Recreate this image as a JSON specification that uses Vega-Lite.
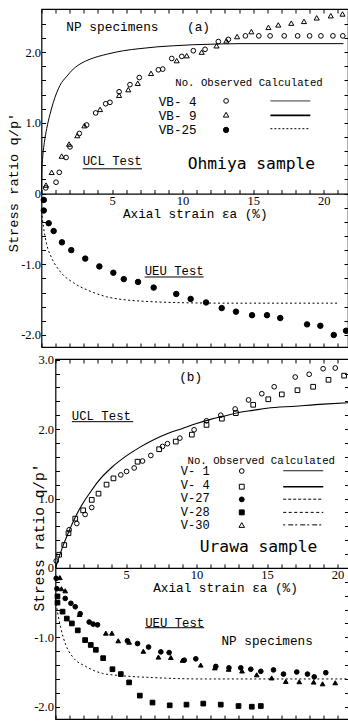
{
  "$schema": "https://vega.github.io/schema/vega-lite/v6.json",
  "padding": {"left": 4.5, "top": 7, "right": 0, "bottom": 0},
  "background": "white",
  "config": {
    "view": {"stroke": "black", "strokeWidth": 1.2},
    "axis": {"grid": false, "domain": false, "ticks": true, "tickColor": "black", "tickWidth": 1, "tickSize": -4, "labelColor": "black", "titleColor": "black", "labelFont": "Liberation Sans Narrow", "labelFontSize": 12.5, "titleFont": "Liberation Mono", "titleFontWeight": "normal", "labelOverlap": false, "labelFlush": false, "labelBound": false},
    "text": {"font": "Liberation Mono", "color": "black", "align": "left", "baseline": "middle"},
    "line": {"color": "black"},
    "rule": {"color": "black"},
    "point": {"opacity": 1}
  },
  "datasets": {
    "a_ucl": [{"x":0,"y":0},{"x":0.02,"y":0.3},{"x":0.08,"y":0.5},{"x":0.2,"y":0.72},{"x":0.37,"y":0.92},{"x":0.6,"y":1.12},{"x":0.84,"y":1.29},{"x":1.31,"y":1.53},{"x":1.8,"y":1.66},{"x":2.25,"y":1.76},{"x":2.8,"y":1.84},{"x":3.44,"y":1.9},{"x":4.62,"y":1.97},{"x":5.8,"y":2.02},{"x":6.98,"y":2.05},{"x":8.2,"y":2.075},{"x":9.34,"y":2.09},{"x":10.8,"y":2.105},{"x":12.5,"y":2.115},{"x":14,"y":2.12},{"x":21.4,"y":2.12}],
    "a_ueu": [{"x":0,"y":-0.25},{"x":0.13,"y":-0.46},{"x":0.37,"y":-0.72},{"x":0.72,"y":-0.91},{"x":1.31,"y":-1.1},{"x":2.25,"y":-1.26},{"x":3.44,"y":-1.38},{"x":4.62,"y":-1.46},{"x":5.8,"y":-1.5},{"x":6.98,"y":-1.52},{"x":8.5,"y":-1.535},{"x":10.29,"y":-1.545},{"x":13,"y":-1.55},{"x":21.1,"y":-1.55}],
    "a_pts": [
      {"s":"VB-4","x":0.3,"y":0.08},{"s":"VB-4","x":1.03,"y":0.16},{"s":"VB-4","x":1.26,"y":0.3},{"s":"VB-4","x":1.74,"y":0.51},{"s":"VB-4","x":2.02,"y":0.66},{"s":"VB-4","x":2.68,"y":0.85},{"s":"VB-4","x":3.2,"y":0.97},{"s":"VB-4","x":3.84,"y":1.14},{"s":"VB-4","x":4.55,"y":1.27},{"s":"VB-4","x":4.85,"y":1.29},{"s":"VB-4","x":5.5,"y":1.44},{"s":"VB-4","x":6.27,"y":1.54},{"s":"VB-4","x":6.93,"y":1.64},{"s":"VB-4","x":8.28,"y":1.75},{"s":"VB-4","x":8.59,"y":1.76},{"s":"VB-4","x":9.23,"y":1.91},{"s":"VB-4","x":9.94,"y":1.94},{"s":"VB-4","x":10.76,"y":2.02},{"s":"VB-4","x":11.59,"y":2.04},{"s":"VB-4","x":12.53,"y":2.15},{"s":"VB-4","x":13.24,"y":2.18},{"s":"VB-4","x":14.45,"y":2.23},{"s":"VB-4","x":15.4,"y":2.23},{"s":"VB-4","x":16.2,"y":2.23},{"s":"VB-4","x":17.2,"y":2.23},{"s":"VB-4","x":18.15,"y":2.23},{"s":"VB-4","x":19.0,"y":2.23},{"s":"VB-4","x":19.8,"y":2.23},{"s":"VB-4","x":20.65,"y":2.23},{"s":"VB-4","x":21.35,"y":2.23},
      {"s":"VB-9","x":0.32,"y":0.12},{"s":"VB-9","x":0.72,"y":0.3},{"s":"VB-9","x":1.43,"y":0.53},{"s":"VB-9","x":1.95,"y":0.7},{"s":"VB-9","x":2.54,"y":0.82},{"s":"VB-9","x":3.04,"y":0.96},{"s":"VB-9","x":4.15,"y":1.19},{"s":"VB-9","x":5.5,"y":1.39},{"s":"VB-9","x":6.15,"y":1.47},{"s":"VB-9","x":6.82,"y":1.56},{"s":"VB-9","x":7.76,"y":1.7},{"s":"VB-9","x":9.58,"y":1.88},{"s":"VB-9","x":10.29,"y":1.95},{"s":"VB-9","x":11.35,"y":2.0},{"s":"VB-9","x":12.4,"y":2.09},{"s":"VB-9","x":13.1,"y":2.16},{"s":"VB-9","x":13.86,"y":2.22},{"s":"VB-9","x":14.87,"y":2.29},{"s":"VB-9","x":16.08,"y":2.35},{"s":"VB-9","x":16.78,"y":2.385},{"s":"VB-9","x":17.7,"y":2.41},{"s":"VB-9","x":18.6,"y":2.435},{"s":"VB-9","x":19.5,"y":2.485},{"s":"VB-9","x":20.5,"y":2.515},{"s":"VB-9","x":21.33,"y":2.54},
      {"s":"VB-25","x":0.16,"y":-0.09},{"s":"VB-25","x":0.16,"y":-0.24},{"s":"VB-25","x":0.51,"y":-0.42},{"s":"VB-25","x":0.86,"y":-0.53},{"s":"VB-25","x":1.45,"y":-0.69},{"s":"VB-25","x":2.11,"y":-0.8},{"s":"VB-25","x":3.1,"y":-0.92},{"s":"VB-25","x":4.1,"y":-1.03},{"s":"VB-25","x":5.09,"y":-1.12},{"s":"VB-25","x":5.83,"y":-1.21},{"s":"VB-25","x":6.84,"y":-1.25},{"s":"VB-25","x":7.95,"y":-1.33},{"s":"VB-25","x":9.55,"y":-1.42},{"s":"VB-25","x":10.57,"y":-1.49},{"s":"VB-25","x":11.66,"y":-1.54},{"s":"VB-25","x":12.77,"y":-1.62},{"s":"VB-25","x":13.78,"y":-1.67},{"s":"VB-25","x":14.92,"y":-1.72},{"s":"VB-25","x":15.98,"y":-1.72},{"s":"VB-25","x":16.92,"y":-1.76},{"s":"VB-25","x":18.82,"y":-1.85},{"s":"VB-25","x":19.76,"y":-1.87},{"s":"VB-25","x":20.71,"y":-2.0},{"s":"VB-25","x":21.58,"y":-1.94}
    ],
    "b_ucl": [{"x":0,"y":0},{"x":0.5,"y":0.3},{"x":1.0,"y":0.55},{"x":1.5,"y":0.77},{"x":2.0,"y":0.95},{"x":2.5,"y":1.1},{"x":3.0,"y":1.24},{"x":4.0,"y":1.45},{"x":5.0,"y":1.61},{"x":6.0,"y":1.74},{"x":7.0,"y":1.85},{"x":8.0,"y":1.94},{"x":9.0,"y":2.01},{"x":10.0,"y":2.08},{"x":11.0,"y":2.14},{"x":12.0,"y":2.19},{"x":13.0,"y":2.24},{"x":14.0,"y":2.27},{"x":15.0,"y":2.3},{"x":17.0,"y":2.33},{"x":19.0,"y":2.36},{"x":20.78,"y":2.38}],
    "b_ueu": [{"x":0,"y":-0.45},{"x":0.14,"y":-0.63},{"x":0.38,"y":-0.87},{"x":0.73,"y":-1.11},{"x":1.21,"y":-1.28},{"x":2.15,"y":-1.42},{"x":3.33,"y":-1.52},{"x":4.52,"y":-1.55},{"x":6.88,"y":-1.58},{"x":10.4,"y":-1.6},{"x":20.9,"y":-1.6}],
    "b_pts": [
      {"s":"V-1","x":0.05,"y":0.1},{"s":"V-1","x":0.97,"y":0.55},{"s":"V-1","x":1.51,"y":0.64},{"s":"V-1","x":2.1,"y":0.77},{"s":"V-1","x":2.57,"y":0.87},{"s":"V-1","x":4.63,"y":1.34},{"s":"V-1","x":5.04,"y":1.39},{"s":"V-1","x":5.58,"y":1.44},{"s":"V-1","x":6.17,"y":1.54},{"s":"V-1","x":6.76,"y":1.62},{"s":"V-1","x":7.59,"y":1.75},{"s":"V-1","x":7.94,"y":1.79},{"s":"V-1","x":8.82,"y":1.87},{"s":"V-1","x":9.83,"y":1.99},{"s":"V-1","x":10.71,"y":2.12},{"s":"V-1","x":11.72,"y":2.2},{"s":"V-1","x":12.74,"y":2.29},{"s":"V-1","x":13.69,"y":2.42},{"s":"V-1","x":14.63,"y":2.51},{"s":"V-1","x":15.51,"y":2.61},{"s":"V-1","x":17.0,"y":2.75},{"s":"V-1","x":17.99,"y":2.79},{"s":"V-1","x":18.98,"y":2.87},{"s":"V-1","x":19.84,"y":2.88},
      {"s":"V-4","x":0.26,"y":0.19},{"s":"V-4","x":0.62,"y":0.33},{"s":"V-4","x":0.92,"y":0.5},{"s":"V-4","x":1.4,"y":0.71},{"s":"V-4","x":1.96,"y":0.83},{"s":"V-4","x":2.57,"y":0.98},{"s":"V-4","x":3.05,"y":1.07},{"s":"V-4","x":3.62,"y":1.2},{"s":"V-4","x":4.11,"y":1.29},{"s":"V-4","x":5.82,"y":1.53},{"s":"V-4","x":7.35,"y":1.71},{"s":"V-4","x":8.53,"y":1.82},{"s":"V-4","x":9.67,"y":1.92},{"s":"V-4","x":10.71,"y":2.06},{"s":"V-4","x":11.8,"y":2.15},{"s":"V-4","x":12.79,"y":2.23},{"s":"V-4","x":14.02,"y":2.35},{"s":"V-4","x":15.09,"y":2.43},{"s":"V-4","x":16.05,"y":2.5},{"s":"V-4","x":17.16,"y":2.56},{"s":"V-4","x":18.27,"y":2.61},{"s":"V-4","x":19.36,"y":2.71},{"s":"V-4","x":20.47,"y":2.77},
      {"s":"V-27","x":0.05,"y":-0.15},{"s":"V-27","x":0.1,"y":-0.3},{"s":"V-27","x":0.69,"y":-0.44},{"s":"V-27","x":1.09,"y":-0.51},{"s":"V-27","x":1.4,"y":-0.56},{"s":"V-27","x":1.75,"y":-0.66},{"s":"V-27","x":2.39,"y":-0.78},{"s":"V-27","x":2.67,"y":-0.81},{"s":"V-27","x":2.98,"y":-0.82},{"s":"V-27","x":5.1,"y":-1.05},{"s":"V-27","x":5.82,"y":-1.09},{"s":"V-27","x":6.6,"y":-1.14},{"s":"V-27","x":7.47,"y":-1.21},{"s":"V-27","x":8.06,"y":-1.22},{"s":"V-27","x":9.13,"y":-1.33},{"s":"V-27","x":9.95,"y":-1.31},{"s":"V-27","x":11.37,"y":-1.42},{"s":"V-27","x":12.3,"y":-1.44},{"s":"V-27","x":13.14,"y":-1.44},{"s":"V-27","x":13.85,"y":-1.46},{"s":"V-27","x":14.56,"y":-1.49},{"s":"V-27","x":15.46,"y":-1.47},{"s":"V-27","x":16.17,"y":-1.53},{"s":"V-27","x":17.11,"y":-1.5},{"s":"V-27","x":17.87,"y":-1.53},{"s":"V-27","x":18.35,"y":-1.57},{"s":"V-27","x":19.17,"y":-1.51},
      {"s":"V-28","x":0.14,"y":-0.41},{"s":"V-28","x":0.14,"y":-0.5},{"s":"V-28","x":0.5,"y":-0.63},{"s":"V-28","x":0.8,"y":-0.73},{"s":"V-28","x":1.16,"y":-0.8},{"s":"V-28","x":1.58,"y":-0.9},{"s":"V-28","x":2.1,"y":-1.04},{"s":"V-28","x":2.5,"y":-1.11},{"s":"V-28","x":2.86,"y":-1.18},{"s":"V-28","x":3.38,"y":-1.3},{"s":"V-28","x":4.04,"y":-1.46},{"s":"V-28","x":4.63,"y":-1.53},{"s":"V-28","x":5.22,"y":-1.65},{"s":"V-28","x":5.98,"y":-1.84},{"s":"V-28","x":6.88,"y":-1.94},{"s":"V-28","x":8.1,"y":-1.98},{"s":"V-28","x":9.29,"y":-1.97},{"s":"V-28","x":10.48,"y":-1.955},{"s":"V-28","x":11.72,"y":-1.97},{"s":"V-28","x":12.98,"y":-1.99},{"s":"V-28","x":13.92,"y":-2.0},{"s":"V-28","x":14.56,"y":-1.99},
      {"s":"V-30","x":0.31,"y":-0.14},{"s":"V-30","x":0.42,"y":-0.3},{"s":"V-30","x":0.69,"y":-0.33},{"s":"V-30","x":1.7,"y":-0.67},{"s":"V-30","x":3.57,"y":-0.94},{"s":"V-30","x":4.0,"y":-0.94},{"s":"V-30","x":4.45,"y":-1.05},{"s":"V-30","x":5.22,"y":-1.07},{"s":"V-30","x":6.23,"y":-1.2},{"s":"V-30","x":7.3,"y":-1.285},{"s":"V-30","x":8.18,"y":-1.29},{"s":"V-30","x":9.0,"y":-1.33},{"s":"V-30","x":10.3,"y":-1.4},{"s":"V-30","x":11.3,"y":-1.44},{"s":"V-30","x":12.28,"y":-1.46},{"s":"V-30","x":13.23,"y":-1.485},{"s":"V-30","x":14.27,"y":-1.54},{"s":"V-30","x":15.33,"y":-1.585},{"s":"V-30","x":16.33,"y":-1.635},{"s":"V-30","x":17.29,"y":-1.64},{"s":"V-30","x":18.31,"y":-1.645},{"s":"V-30","x":18.94,"y":-1.67},{"s":"V-30","x":19.84,"y":-1.655}
    ]
  },
  "bounds": "flush",
  "align": "none",
  "spacing": 12,
  "resolve": {"scale": {"shape": "independent", "fill": "independent", "size": "independent"}},
  "vconcat": [
    {
      "width": 306.5,
      "height": 338,
      "layer": [
        {
          "data": {"name": "a_ucl"},
          "mark": {"type": "line", "interpolate": "monotone", "strokeWidth": 1},
          "encoding": {
            "x": {"field": "x", "type": "quantitative", "scale": {"domain": [0, 21.72], "nice": false, "zero": false},
              "axis": {"orient": "bottom", "offset": -153.44, "values": [0,1,2,3,4,5,6,7,8,9,10,11,12,13,14,15,16,17,18,19,20,21], "domain": true, "domainColor": "black", "domainWidth": 1.2, "labelExpr": "datum.value > 0 && datum.value % 5 == 0 ? datum.label : ''", "labelPadding": 5, "title": "Axial strain εa (%)", "titleFontSize": 12.7, "titlePadding": 0}},
            "y": {"field": "y", "type": "quantitative", "scale": {"domain": [-2.17, 2.61], "nice": false, "zero": false},
              "axis": {"orient": "left", "values": [-2,-1.8,-1.6,-1.4,-1.2,-1,-0.8,-0.6,-0.4,-0.2,0,0.2,0.4,0.6,0.8,1,1.2,1.4,1.6,1.8,2,2.2,2.4], "labelExpr": "abs(datum.value - round(datum.value)) < 0.001 ? (datum.value == 0 ? '0' : (datum.value < 0 ? '-' : '') + format(abs(datum.value), '.1f')) : ''", "labelPadding": 5, "title": "Stress ratio q/p'", "titleX": -28.5, "titleY": 173, "titleBaseline": "middle", "titleAngle": 270, "titleFontSize": 13.7}}
          }
        },
        {
          "data": {"name": "a_ueu"},
          "mark": {"type": "line", "interpolate": "monotone", "strokeWidth": 1, "strokeDash": [2, 2.5]},
          "encoding": {
            "x": {"field": "x", "type": "quantitative", "scale": {"domain": [0, 21.72], "nice": false, "zero": false},
              "axis": {"orient": "top", "values": [0,1,2,3,4,5,6,7,8,9,10,11,12,13,14,15,16,17,18,19,20,21], "labels": false, "title": null}},
            "y": {"field": "y", "type": "quantitative", "scale": {"domain": [-2.17, 2.61], "nice": false, "zero": false},
              "axis": {"orient": "right", "values": [-2,-1.8,-1.6,-1.4,-1.2,-1,-0.8,-0.6,-0.4,-0.2,0,0.2,0.4,0.6,0.8,1,1.2,1.4,1.6,1.8,2,2.2,2.4], "labels": false, "title": null}}
          }
        },
        {
          "data": {"name": "a_pts"},
          "mark": {"type": "point", "stroke": "black", "strokeWidth": 1},
          "encoding": {
            "x": {"field": "x", "type": "quantitative", "scale": {"domain": [0, 21.72], "nice": false, "zero": false},
              "axis": {"orient": "bottom", "values": [0,1,2,3,4,5,6,7,8,9,10,11,12,13,14,15,16,17,18,19,20,21], "labels": false, "title": null}},
            "y": {"field": "y", "type": "quantitative", "scale": {"domain": [-2.17, 2.61], "nice": false, "zero": false}, "axis": null},
            "shape": {"field": "s", "type": "nominal", "scale": {"domain": ["VB-4", "VB-9", "VB-25"], "range": ["circle", "triangle-up", "circle"]}, "legend": null},
            "fill": {"field": "s", "type": "nominal", "scale": {"domain": ["VB-4", "VB-9", "VB-25"], "range": ["transparent", "transparent", "black"]}, "legend": null},
            "size": {"field": "s", "type": "nominal", "scale": {"domain": ["VB-4", "VB-9", "VB-25"], "range": [22, 30, 30]}, "legend": null}
          }
        },
        {"data": {"values": [{}]}, "mark": {"type": "text", "fontSize": 12.8}, "encoding": {"x": {"datum": 1.76, "axis": null}, "y": {"datum": 2.355, "axis": null}, "text": {"value": "NP specimens"}}},
        {"data": {"values": [{}]}, "mark": {"type": "text", "fontSize": 12.8}, "encoding": {"x": {"datum": 10.31, "axis": null}, "y": {"datum": 2.355, "axis": null}, "text": {"value": "(a)"}}},
        {"data": {"values": [{}]}, "mark": {"type": "text", "fontSize": 10.7}, "encoding": {"x": {"datum": 9.48, "axis": null}, "y": {"datum": 1.567, "axis": null}, "text": {"value": "No. Observed Calculated"}}},
        {"data": {"values": [{}]}, "mark": {"type": "text", "fontSize": 12.6, "lineHeight": 14.2}, "encoding": {"x": {"datum": 8.31, "axis": null}, "y": {"datum": 1.3, "axis": null}, "text": {"value": ["VB- 4", "VB- 9", "VB-25"]}}},
        {"data": {"values": [{}]}, "mark": {"type": "point", "shape": "circle", "size": 22, "stroke": "black", "strokeWidth": 1, "fill": "transparent"}, "encoding": {"x": {"datum": 13.08, "axis": null}, "y": {"datum": 1.31, "axis": null}}},
        {"data": {"values": [{}]}, "mark": {"type": "point", "shape": "triangle-up", "size": 30, "stroke": "black", "strokeWidth": 1, "fill": "transparent"}, "encoding": {"x": {"datum": 13.08, "axis": null}, "y": {"datum": 1.115, "axis": null}}},
        {"data": {"values": [{}]}, "mark": {"type": "point", "shape": "circle", "size": 28, "stroke": "black", "strokeWidth": 1, "fill": "black"}, "encoding": {"x": {"datum": 13.08, "axis": null}, "y": {"datum": 0.9, "axis": null}}},
        {"data": {"values": [{}]}, "mark": {"type": "rule", "strokeWidth": 0.8}, "encoding": {"x": {"datum": 16.22, "axis": null}, "x2": {"datum": 19.05}, "y": {"datum": 1.31, "axis": null}}},
        {"data": {"values": [{}]}, "mark": {"type": "rule", "strokeWidth": 1.6}, "encoding": {"x": {"datum": 16.22, "axis": null}, "x2": {"datum": 19.05}, "y": {"datum": 1.105, "axis": null}}},
        {"data": {"values": [{}]}, "mark": {"type": "rule", "strokeWidth": 1, "strokeDash": [2, 2]}, "encoding": {"x": {"datum": 16.22, "axis": null}, "x2": {"datum": 19.05}, "y": {"datum": 0.917, "axis": null}}},
        {"data": {"values": [{}]}, "mark": {"type": "text", "fontSize": 12.3}, "encoding": {"x": {"datum": 2.92, "axis": null}, "y": {"datum": 0.455, "axis": null}, "text": {"value": "UCL Test"}}},
        {"data": {"values": [{}]}, "mark": {"type": "rule", "strokeWidth": 1}, "encoding": {"x": {"datum": 2.92, "axis": null}, "x2": {"datum": 7.12}, "y": {"datum": 0.35, "axis": null}}},
        {"data": {"values": [{}]}, "mark": {"type": "text", "font": "DejaVu Sans Mono", "fontSize": 16.3}, "encoding": {"x": {"datum": 10.36, "axis": null}, "y": {"datum": 0.42, "axis": null}, "text": {"value": "Ohmiya sample"}}},
        {"data": {"values": [{}]}, "mark": {"type": "text", "fontSize": 12.3}, "encoding": {"x": {"datum": 7.31, "axis": null}, "y": {"datum": -1.1, "axis": null}, "text": {"value": "UEU Test"}}},
        {"data": {"values": [{}]}, "mark": {"type": "rule", "strokeWidth": 1}, "encoding": {"x": {"datum": 7.31, "axis": null}, "x2": {"datum": 11.49}, "y": {"datum": -1.18, "axis": null}}}
      ],
      "resolve": {"axis": {"x": "independent", "y": "independent"}}
    },
    {
      "hconcat": [
        {
          "width": 13.5,
          "height": 360,
          "data": {"values": [{}]},
          "mark": {"type": "text", "text": ""},
          "view": {"stroke": null}
        },
        {
          "width": 293,
          "height": 360,
          "layer": [
            {
              "data": {"name": "b_ucl"},
              "mark": {"type": "line", "interpolate": "monotone", "strokeWidth": 1.1},
              "encoding": {
                "x": {"field": "x", "type": "quantitative", "scale": {"domain": [0, 20.78], "nice": false, "zero": false},
                  "axis": {"orient": "bottom", "offset": -151.09, "values": [0,1,2,3,4,5,6,7,8,9,10,11,12,13,14,15,16,17,18,19,20], "domain": true, "domainColor": "black", "domainWidth": 1.2, "labelExpr": "datum.value > 0 && datum.value % 5 == 0 ? datum.label : ''", "labelPadding": 5, "title": "Axial strain εa (%)", "titleFontSize": 12.7, "titlePadding": 0, "titleX": 169.5}},
                "y": {"field": "y", "type": "quantitative", "scale": {"domain": [-2.177, 3.01], "nice": false, "zero": false},
                  "axis": {"orient": "left", "values": [-2,-1.8,-1.6,-1.4,-1.2,-1,-0.8,-0.6,-0.4,-0.2,0,0.2,0.4,0.6,0.8,1,1.2,1.4,1.6,1.8,2,2.2,2.4,2.6,2.8,3], "labelExpr": "abs(datum.value - round(datum.value)) < 0.001 ? (datum.value == 0 ? '0' : (datum.value < 0 ? '-' : '') + format(abs(datum.value), '.1f')) : ''", "labelPadding": 6, "title": "Stress ratio q/p'", "titleX": -16, "titleY": 178, "titleBaseline": "middle", "titleAngle": 270, "titleFontSize": 14.5}}
              }
            },
            {
              "data": {"name": "b_ueu"},
              "mark": {"type": "line", "interpolate": "monotone", "strokeWidth": 1, "strokeDash": [2, 2.5]},
              "encoding": {
                "x": {"field": "x", "type": "quantitative", "scale": {"domain": [0, 20.78], "nice": false, "zero": false},
                  "axis": {"orient": "top", "values": [0,1,2,3,4,5,6,7,8,9,10,11,12,13,14,15,16,17,18,19,20], "labels": false, "title": null}},
                "y": {"field": "y", "type": "quantitative", "scale": {"domain": [-2.177, 3.01], "nice": false, "zero": false},
                  "axis": {"orient": "right", "values": [-2,-1.8,-1.6,-1.4,-1.2,-1,-0.8,-0.6,-0.4,-0.2,0,0.2,0.4,0.6,0.8,1,1.2,1.4,1.6,1.8,2,2.2,2.4,2.6,2.8], "labels": false, "title": null}}
              }
            },
            {
              "data": {"name": "b_pts"},
              "mark": {"type": "point", "stroke": "black", "strokeWidth": 1},
              "encoding": {
                "x": {"field": "x", "type": "quantitative", "scale": {"domain": [0, 20.78], "nice": false, "zero": false},
                  "axis": {"orient": "bottom", "values": [0,1,2,3,4,5,6,7,8,9,10,11,12,13,14,15,16,17,18,19,20], "labels": false, "title": null}},
                "y": {"field": "y", "type": "quantitative", "scale": {"domain": [-2.177, 3.01], "nice": false, "zero": false}, "axis": null},
                "shape": {"field": "s", "type": "nominal", "scale": {"domain": ["V-1", "V-4", "V-27", "V-28", "V-30"], "range": ["circle", "square", "circle", "square", "triangle-up"]}, "legend": null},
                "fill": {"field": "s", "type": "nominal", "scale": {"domain": ["V-1", "V-4", "V-27", "V-28", "V-30"], "range": ["transparent", "transparent", "black", "black", "black"]}, "legend": null},
                "size": {"field": "s", "type": "nominal", "scale": {"domain": ["V-1", "V-4", "V-27", "V-28", "V-30"], "range": [22, 22, 26, 24, 30]}, "legend": null}
              }
            },
            {"data": {"values": [{}]}, "mark": {"type": "text", "fontSize": 12.8}, "encoding": {"x": {"datum": 8.77, "axis": null}, "y": {"datum": 2.755, "axis": null}, "text": {"value": "(b)"}}},
            {"data": {"values": [{}]}, "mark": {"type": "text", "fontSize": 12.3}, "encoding": {"x": {"datum": 1.16, "axis": null}, "y": {"datum": 2.19, "axis": null}, "text": {"value": "UCL Test"}}},
            {"data": {"values": [{}]}, "mark": {"type": "rule", "strokeWidth": 1}, "encoding": {"x": {"datum": 1.16, "axis": null}, "x2": {"datum": 5.51}, "y": {"datum": 2.107, "axis": null}}},
            {"data": {"values": [{}]}, "mark": {"type": "text", "fontSize": 10.7}, "encoding": {"x": {"datum": 9.36, "axis": null}, "y": {"datum": 1.545, "axis": null}, "text": {"value": "No. Observed Calculated"}}},
            {"data": {"values": [{}]}, "mark": {"type": "text", "fontSize": 12, "lineHeight": 13.5}, "encoding": {"x": {"datum": 8.89, "axis": null}, "y": {"datum": 1.396, "axis": null}, "text": {"value": ["V- 1", "V- 4", "V-27", "V-28", "V-30"]}}},
            {"data": {"values": [{}]}, "mark": {"type": "point", "shape": "circle", "size": 22, "stroke": "black", "strokeWidth": 1, "fill": "transparent"}, "encoding": {"x": {"datum": 13.21, "axis": null}, "y": {"datum": 1.396, "axis": null}}},
            {"data": {"values": [{}]}, "mark": {"type": "point", "shape": "square", "size": 24, "stroke": "black", "strokeWidth": 1, "fill": "transparent"}, "encoding": {"x": {"datum": 13.21, "axis": null}, "y": {"datum": 1.17, "axis": null}}},
            {"data": {"values": [{}]}, "mark": {"type": "point", "shape": "circle", "size": 24, "stroke": "black", "strokeWidth": 1, "fill": "black"}, "encoding": {"x": {"datum": 13.21, "axis": null}, "y": {"datum": 0.987, "axis": null}}},
            {"data": {"values": [{}]}, "mark": {"type": "point", "shape": "square", "size": 24, "stroke": "black", "strokeWidth": 1, "fill": "black"}, "encoding": {"x": {"datum": 13.21, "axis": null}, "y": {"datum": 0.8, "axis": null}}},
            {"data": {"values": [{}]}, "mark": {"type": "point", "shape": "triangle-up", "size": 30, "stroke": "black", "strokeWidth": 1, "fill": "transparent"}, "encoding": {"x": {"datum": 13.21, "axis": null}, "y": {"datum": 0.618, "axis": null}}},
            {"data": {"values": [{}]}, "mark": {"type": "rule", "strokeWidth": 0.9}, "encoding": {"x": {"datum": 16.15, "axis": null}, "x2": {"datum": 18.99}, "y": {"datum": 1.4, "axis": null}}},
            {"data": {"values": [{}]}, "mark": {"type": "rule", "strokeWidth": 1.6}, "encoding": {"x": {"datum": 16.15, "axis": null}, "x2": {"datum": 18.99}, "y": {"datum": 1.17, "axis": null}}},
            {"data": {"values": [{}]}, "mark": {"type": "rule", "strokeWidth": 1, "strokeDash": [3, 2]}, "encoding": {"x": {"datum": 16.15, "axis": null}, "x2": {"datum": 18.99}, "y": {"datum": 0.99, "axis": null}}},
            {"data": {"values": [{}]}, "mark": {"type": "rule", "strokeWidth": 1, "strokeDash": [3, 2.5]}, "encoding": {"x": {"datum": 16.15, "axis": null}, "x2": {"datum": 18.99}, "y": {"datum": 0.8, "axis": null}}},
            {"data": {"values": [{}]}, "mark": {"type": "rule", "strokeWidth": 1, "strokeDash": [2, 3, 5, 2]}, "encoding": {"x": {"datum": 16.15, "axis": null}, "x2": {"datum": 18.99}, "y": {"datum": 0.62, "axis": null}}},
            {"data": {"values": [{}]}, "mark": {"type": "text", "font": "DejaVu Sans Mono", "fontSize": 16.3}, "encoding": {"x": {"datum": 10.23, "axis": null}, "y": {"datum": 0.305, "axis": null}, "text": {"value": "Urawa sample"}}},
            {"data": {"values": [{}]}, "mark": {"type": "text", "fontSize": 12.3}, "encoding": {"x": {"datum": 6.36, "axis": null}, "y": {"datum": -0.79, "axis": null}, "text": {"value": "UEU Test"}}},
            {"data": {"values": [{}]}, "mark": {"type": "rule", "strokeWidth": 1}, "encoding": {"x": {"datum": 6.36, "axis": null}, "x2": {"datum": 10.55}, "y": {"datum": -0.862, "axis": null}}},
            {"data": {"values": [{}]}, "mark": {"type": "text", "fontSize": 12.7}, "encoding": {"x": {"datum": 11.77, "axis": null}, "y": {"datum": -1.05, "axis": null}, "text": {"value": "NP specimens"}}}
          ],
          "resolve": {"axis": {"x": "independent", "y": "independent"}}
        }
      ],
      "spacing": 0,
      "bounds": "flush"
    }
  ]
}
